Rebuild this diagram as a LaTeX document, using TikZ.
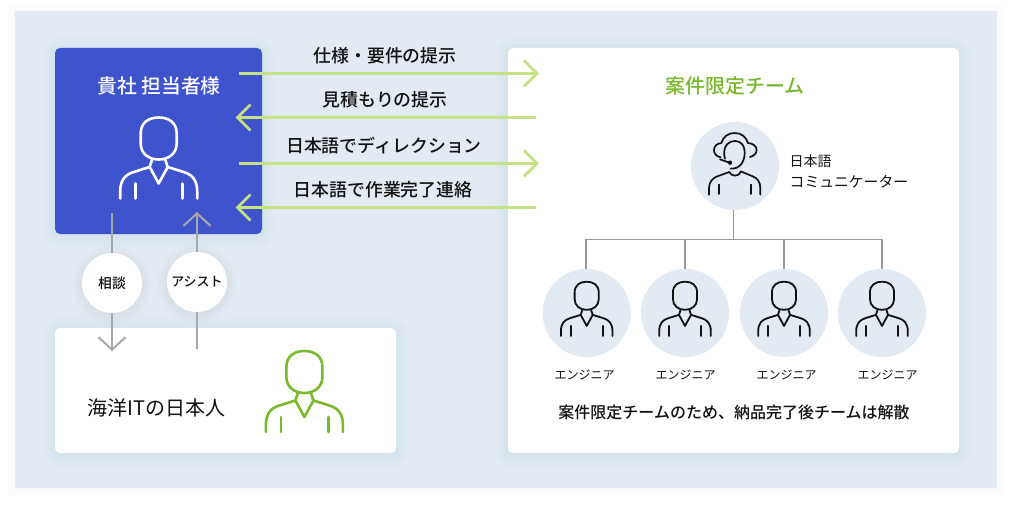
\documentclass[tikz,border=0pt]{standalone}
\usepackage{fontspec}
\setmainfont{Noto Sans CJK JP}
\newfontfamily\medfont{Noto Sans CJK JP Medium}
\usetikzlibrary{arrows.meta}
\definecolor{panelbg}{HTML}{E3EAF2}
\definecolor{blueback}{HTML}{3F53CC}
\definecolor{limeline}{HTML}{C5E385}
\definecolor{greenink}{HTML}{7AB82D}
\definecolor{grayline}{HTML}{A8A8A8}
\definecolor{orgline}{HTML}{999999}
\definecolor{inkdark}{HTML}{111111}
\definecolor{shadowc}{HTML}{5A6E8C}
\newcommand{\softshadow}[4]{%
  \foreach \g in {1,3,5,7,9,11,13}{%
    \fill[shadowc,opacity=0.009,rounded corners=5pt+\g pt]
      ({#1-\g},{#2-\g+2}) rectangle ({#3+\g},{#4+\g+2});}}
\newcommand{\personicon}[5]{% cx, top y, scale, colour, line width
  \begin{scope}[shift={(#1,#2)},x=#3pt,y=-#3pt,draw=#4,line width=#5pt,line cap=round,line join=round]
    \draw (-18,16) .. controls (-18,5) and (-10,0) .. (0,0) .. controls (10,0) and (18,5) .. (18,16)
      -- (18,26) .. controls (18,36) and (10,42) .. (0,42) .. controls (-10,42) and (-18,36) .. (-18,26) -- cycle;
    \draw (-38.5,81) -- (-38.5,74) .. controls (-38.5,62) and (-33,57) .. (-25,54.5) -- (-9,49.5)
       -- (-6.5,42);
    \draw (38.5,81) -- (38.5,74) .. controls (38.5,62) and (33,57) .. (25,54.5) -- (9,49.5)
       -- (6.5,42);
    \draw (-9,49.5) -- (0,66) -- (9,49.5);
    \draw (-23.5,66) -- (-23.5,81);
    \draw (24,66) -- (24,81);
  \end{scope}}
\tikzset{
  card/.style={fill=white,rounded corners=5pt},
  limearrowR/.style={draw=limeline,line width=2.8pt,-{Straight Barb[length=13pt,width=26pt,line width=2.8pt]}},
  grayarrow/.style={draw=grayline,line width=2pt,-{Straight Barb[length=12.5pt,width=27pt,line width=2pt]}},
  orgwire/.style={draw=orgline,line width=1.7pt},
  arrowlabel/.style={font=\medfont\fontsize{17.9}{20}\selectfont,text=inkdark,inner sep=0pt},
  bubble/.style={circle,fill=white,minimum size=60pt,inner sep=0pt,text=inkdark},
  avatar/.style={circle,fill=panelbg,minimum size=88pt,inner sep=0pt},
  smalllabel/.style={font=\fontsize{12}{14}\selectfont,text=inkdark,inner sep=0pt},
}
\begin{document}
\begin{tikzpicture}[x=1pt,y=-1pt]
\useasboundingbox (0,0) rectangle (1012,508);
\fill[white] (0,0) rectangle (1012,508);
\foreach \g in {1,3,5,7,9}{\fill[shadowc,opacity=0.004] ({15-\g},{11-\g}) rectangle ({997+\g},{488+\g});}
\fill[panelbg] (15,11) rectangle (997,488);
% cards
\softshadow{55}{48}{262}{234}
\softshadow{55}{328}{396}{453}
\softshadow{508}{48}{959}{453}
\foreach \g in {2,4,6,8,10}{\fill[shadowc,opacity=0.012] (112,285) circle ({30+\g}); \fill[shadowc,opacity=0.012] (197,284) circle ({30+\g});}
\fill[blueback,rounded corners=5pt] (55,48) rectangle (262,234);
\fill[card] (55,328) rectangle (396,453);
\fill[card] (508,48) rectangle (959,453);
% titles
\node[font=\medfont\fontsize{19.8}{22}\selectfont,text=white,inner sep=0pt] (client) at (159,86) {貴社 担当者様};
\personicon{158.7}{117.5}{1}{white}{2.6}
\node[font=\medfont\fontsize{20}{24}\selectfont,text=greenink,inner sep=0pt] (teamtitle) at (735,86) {案件限定チーム};
% lime arrows
\coordinate (a1s) at (239,73.3); \coordinate (a1e) at (539,73.3);
\coordinate (a2s) at (536,117.5); \coordinate (a2e) at (235.5,117.5);
\coordinate (a3s) at (239,163.3); \coordinate (a3e) at (539,163.3);
\coordinate (a4s) at (536,207.5); \coordinate (a4e) at (235.5,207.5);
\draw[limearrowR] (a1s) -- (a1e);
\draw[limearrowR] (a2s) -- (a2e);
\draw[limearrowR] (a3s) -- (a3e);
\draw[limearrowR] (a4s) -- (a4e);
\node[arrowlabel] (l1) at (385,56) {仕様・要件の提示};
\node[arrowlabel] (l2) at (385,100) {見積もりの提示};
\node[arrowlabel] (l3) at (384,146) {日本語でディレクション};
\node[arrowlabel] (l4) at (383,190) {日本語で作業完了連絡};
% gray arrows
\coordinate (g1s) at (112,213); \coordinate (g1e) at (112,351);
\coordinate (g2s) at (197,349); \coordinate (g2e) at (197,212);
\draw[grayarrow] (g1s) -- (g1e);
\draw[grayarrow] (g2s) -- (g2e);
\node[bubble,font=\medfont\fontsize{13.8}{15}\selectfont] (consult) at (112,283) {\raisebox{-1pt}{相談}};
\node[bubble,font=\medfont\fontsize{13}{15}\selectfont] (assist) at (197,282) {\raisebox{-1.5pt}{アシスト}};
% Japanese staff
\node[font=\fontsize{20}{22}\selectfont,text=inkdark,inner sep=0pt,anchor=west] (jp) at (87.5,408) {海洋ITの日本人};
\personicon{304.4}{351}{1}{greenink}{2.6}
% org chart
\node[avatar] (comm) at (735,166) {};
\node[avatar] (e1) at (586.7,313) {};
\node[avatar] (e2) at (685,313) {};
\node[avatar] (e3) at (784,313) {};
\node[avatar] (e4) at (882,313) {};
\coordinate (bus) at (733.5,239.5);
\draw[orgwire] (733.5,210) -- (bus);
\draw[orgwire] (586,269) |- (bus) -| (e4.north);
\draw[orgwire] (e2.north) -- (e2.north |- bus);
\draw[orgwire] (e3.north) -- (e3.north |- bus);
\personicon{586.7}{281.7}{0.67}{inkdark}{1.8}
\personicon{685}{281.7}{0.67}{inkdark}{1.8}
\personicon{784}{281.7}{0.67}{inkdark}{1.8}
\personicon{882}{281.7}{0.67}{inkdark}{1.8}
% headset person
\begin{scope}[shift={(700,128)},x=0.3333pt,y=-0.3333pt,draw=inkdark,line width=1.7pt,line cap=round,line join=round]
  \draw (62,88) .. controls (48,85) and (42,76) .. (42,66) .. controls (42,54) and (52,46) .. (64,45)
        .. controls (70,26) and (84,15) .. (104,15) .. controls (124,15) and (138,26) .. (144,45)
        .. controls (158,46) and (170,54) .. (170,66) .. controls (170,76) and (162,84) .. (150,87);
  \draw (75,92) .. controls (70,78) and (72,58) .. (82,48) .. controls (94,36) and (116,36) .. (126,48)
        .. controls (138,62) and (136,92) .. (124,108) .. controls (116,118) and (108,122) .. (92,122);
  \draw (60,94) -- (88,104);
  \fill[inkdark] (90,104) circle (6.5);
  \draw (27,200) -- (27,180) .. controls (27,162) and (38,150) .. (52,145) -- (88,132)
        .. controls (92,144) and (116,150) .. (122,130) -- (158,145)
        .. controls (172,150) and (181,162) .. (181,180) -- (181,200);
  \draw (57,170) -- (57,198);
  \draw (152,170) -- (152,198);
\end{scope}
% labels
\node[font=\fontsize{14}{16}\selectfont,text=inkdark,inner sep=0pt,anchor=west] (c1) at (789.5,161) {日本語};
\node[font=\fontsize{14.8}{16}\selectfont,text=inkdark,inner sep=0pt,anchor=west] (c2) at (789.5,182) {コミュニケーター};
\node[smalllabel] (n1) at (584.5,375) {エンジニア};
\node[smalllabel] (n2) at (685.5,375) {エンジニア};
\node[smalllabel] (n3) at (786.5,375) {エンジニア};
\node[smalllabel] (n4) at (887.5,375) {エンジニア};
\node[font=\medfont\fontsize{16}{18}\selectfont,text=inkdark,inner sep=0pt] (note) at (734,412) {案件限定チームのため、納品完了後チームは解散};
\end{tikzpicture}
\end{document}
